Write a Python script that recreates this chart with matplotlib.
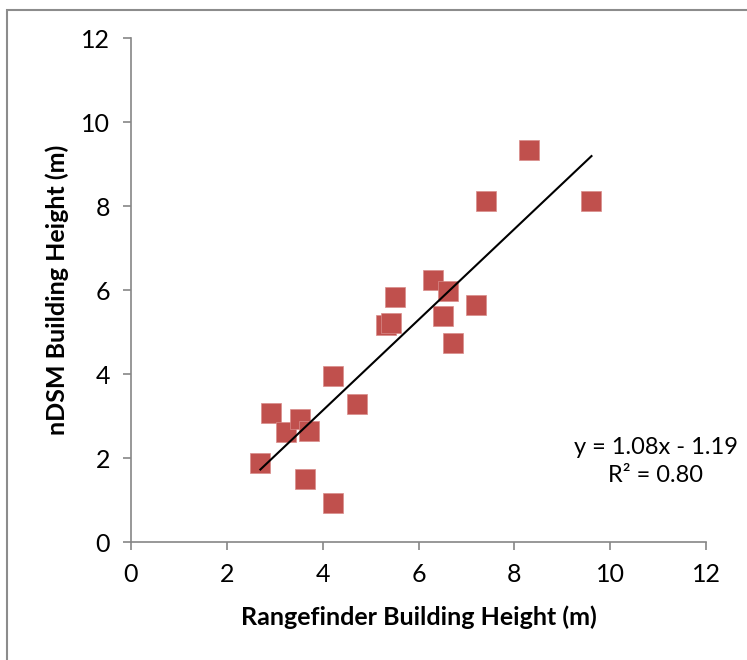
import matplotlib.pyplot as plt
from matplotlib.patches import Rectangle

# Building heights (m): rangefinder vs nDSM
rangefinder = [2.70, 2.92, 3.23, 3.53, 3.72, 3.63, 4.22, 4.22, 4.72, 5.32,
               5.42, 5.51, 6.31, 6.61, 6.51, 6.71, 7.21, 7.41, 8.31, 9.61]
ndsm = [1.87, 3.06, 2.62, 2.93, 2.64, 1.51, 3.95, 0.93, 3.28, 5.17,
        5.21, 5.83, 6.25, 5.98, 5.39, 4.74, 5.64, 8.13, 9.33, 8.13]

# Linear trendline as reported
slope = 1.08
intercept = -1.19
r2 = 0.80

ticks = [0, 2, 4, 6, 8, 10, 12]

plt.rcParams['font.family'] = ['Lato', 'DejaVu Sans']

fig = plt.figure(figsize=(7.47, 6.6), dpi=100)
ax = fig.add_axes([131 / 747, 1 - 542 / 660, 575 / 747, 504 / 660])

# Chart area border (only left/top visible in the crop)
fig.patches.append(Rectangle((7 / 747, -0.1), 1.2, 1 - 9.5 / 660 + 0.1,
                             transform=fig.transFigure, fill=False,
                             edgecolor='#8c8c8c', linewidth=1.5))

ax.scatter(rangefinder, ndsm, marker='s', s=210, color='#C0504D',
           edgecolors='#d98c8a', linewidths=0.5, zorder=3)

x0, x1 = min(rangefinder), max(rangefinder)
ax.plot([x0, x1], [slope * x0 + intercept, slope * x1 + intercept],
        color='black', linewidth=1.5, zorder=4)

ax.text(10.95, 1.92, f"y = {slope:.2f}x - {abs(intercept):.2f}\nR² = {r2:.2f}",
        ha='center', va='center', multialignment='center', fontsize=17,
        linespacing=1.45)

ax.set_xlim(0, 12)
ax.set_ylim(0, 12)
ax.set_xticks(ticks)
ax.set_yticks(ticks)
ax.tick_params(direction='out', length=6, width=1.2, color='#868686',
               labelsize=18, pad=9)
for side in ['top', 'right']:
    ax.spines[side].set_visible(False)
for side in ['left', 'bottom']:
    ax.spines[side].set_color('#868686')
    ax.spines[side].set_linewidth(1.2)

ax.set_xlabel('Rangefinder Building Height (m)', fontsize=18, fontweight='bold', labelpad=14)
ax.set_ylabel('nDSM Building Height (m)', fontsize=18, fontweight='bold', labelpad=9)

fig.savefig('out.png', dpi=100)
